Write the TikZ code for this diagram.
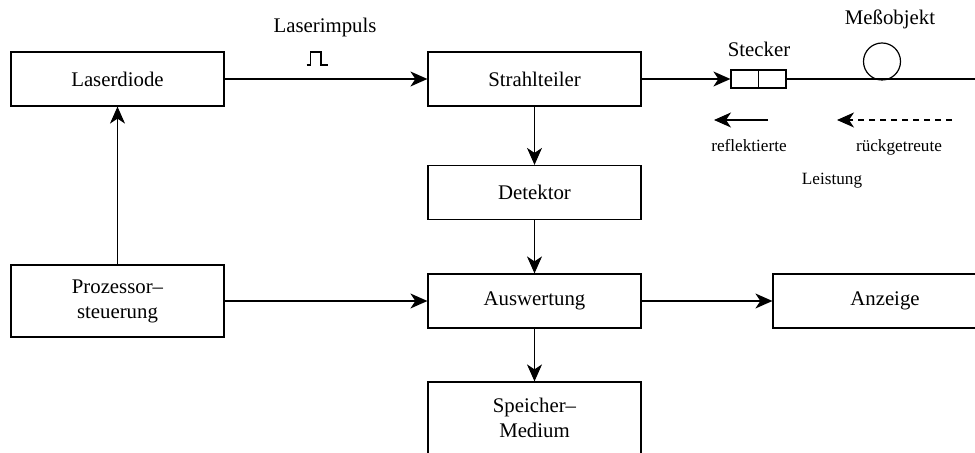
\documentclass[tikz,border=0pt]{standalone}
\usepackage{fontspec}
\setmainfont{Liberation Serif}
\usetikzlibrary{arrows.meta}

\tikzset{
  block/.style={draw, rectangle, minimum width=106.5pt, minimum height=27pt,
    align=center, inner sep=0pt, font=\fontsize{10.4}{12.5}\selectfont},
  hohes/.style={block, minimum height=36pt},
  pfeil/.style={-{Stealth[length=8.5pt,width=7.5pt,inset=2.5pt]}},
  beschr/.style={anchor=base, inner sep=0pt, font=\fontsize{10.4}{12.5}\selectfont},
  klein/.style={anchor=base, inner sep=0pt, font=\fontsize{8.6}{10}\selectfont}
}

\begin{document}
\begin{tikzpicture}[x=0.5pt, y=-0.5pt, line width=0.6pt]
\path[use as bounding box, clip] (0,0) rectangle (975,453);

% Bloecke
\node[block] (laser) at (117.5,79) {Laserdiode};
\node[block] (teiler) at (534.5,79) {Strahlteiler};
\node[block] (detektor) at (534.5,192.5) {Detektor};
\node[hohes] (prozessor) at (117.5,301) {Prozessor–\\steuerung};
\node[block] (auswertung) at (534.5,301) {Auswertung};
\node[block, minimum width=112pt] (anzeige) at (885,301) {Anzeige};
\node[hohes] (speicher) at (534.5,418) {Speicher–\\Medium};

% Faser mit Stecker und Messobjekt
\node[draw, rectangle, minimum width=27.5pt, minimum height=9pt, inner sep=0pt] (stecker) at (758.5,79) {};
\path[draw] (stecker.north) -- (stecker.south);
\node[draw, circle, minimum size=18.5pt, inner sep=0pt] (objekt) at (882,61.5) {};
\coordinate (ende) at (980,79);

\path[draw,pfeil] (laser) -- (teiler);
\path[draw,pfeil] (teiler) -- (stecker);
\path[draw] (stecker) -- (ende);
\path[draw,pfeil] (teiler) -- (detektor);
\path[draw,pfeil] (detektor) -- (auswertung);
\path[draw,pfeil] (prozessor) -- (laser);
\path[draw,pfeil] (prozessor) -- (auswertung);
\path[draw,pfeil] (auswertung) -- (anzeige);
\path[draw,pfeil] (auswertung) -- (speicher);

% Laserimpuls
\node[beschr] (impuls) at (325,33) {Laserimpuls};
\path[draw] (306.7,65) -- (310.7,65) -- (310.7,52) -- (321,52) -- (321,65) -- (328,65);

\node[beschr] (steckerlabel) at (759,57) {Stecker};
\node[beschr] (objektlabel) at (890,25) {Meßobjekt};

% zurueckkommende Leistung
\coordinate (ra) at (768,120);
\coordinate (re) at (714,120);
\coordinate (ga) at (952,120);
\coordinate (ge) at (837,120);
\path[draw,pfeil] (ra) -- (re);
\path[draw,pfeil,dash pattern=on 3pt off 2.5pt] (ga) -- (ge);
\node[klein] (refl) at (749,152) {reflektierte};
\node[klein] (rueck) at (899,152) {rückgetreute};
\node[klein] (leist) at (832,185) {Leistung};
\end{tikzpicture}
\end{document}
